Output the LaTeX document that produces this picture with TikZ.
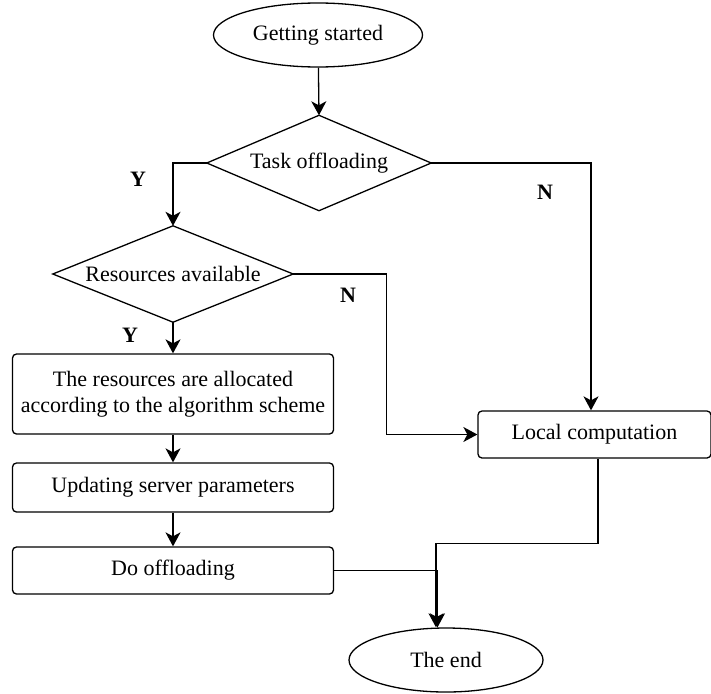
\documentclass[tikz,border=0pt]{standalone}
\usepackage{fontspec}
\setmainfont{Liberation Serif}
\usetikzlibrary{shapes.geometric,arrows.meta}
\begin{document}
\begin{tikzpicture}[x=1pt,y=-1pt,
  every node/.style={font=\fontsize{22}{26}\selectfont, inner sep=0pt},
  box/.style={draw, rounded corners=4pt, line width=1.3pt, minimum width=321pt, minimum height=48pt, align=center},
  term/.style={draw, ellipse, line width=1.3pt},
  dec/.style={rectangle},
  edge/.style={line width=1.3pt, line join=miter},
  flow/.style={line width=1.3pt, -{Stealth[length=14pt,width=15pt,inset=4pt]}},
  yn/.style={font=\fontsize{22}{26}\selectfont\bfseries}]
\useasboundingbox (0,0) rectangle (711,693);
% process nodes
\node[term, minimum width=209pt, minimum height=64pt] (start) at (318,35) {Getting started};
\node[dec, minimum width=224pt, minimum height=95pt] (task) at (319,163) {Task offloading};
\node[dec, minimum width=240pt, minimum height=96pt] (res) at (173,274) {Resources available};
\node[box, minimum height=80pt] (alloc) at (173,394) {The resources are allocated\\according to the algorithm scheme};
\node[box, minimum height=49pt] (upd) at (173,487.5) {Updating server parameters};
\node[box, minimum height=47pt] (off) at (173,570.5) {Do offloading};
\node[box, minimum width=233pt, minimum height=47pt] (local) at (594.5,434.5) {Local computation};
\node[term, minimum width=194pt, minimum height=64pt] (end) at (446,660) {The end};
% decision outlines
\draw[edge] (task.north) -- (task.east) -- (task.south) -- (task.west) -- cycle;
\draw[edge] (res.north) -- (res.east) -- (res.south) -- (res.west) -- cycle;
% branch labels
\node[yn] (y1) at (138,179) {Y};
\node[yn] (n1) at (545,192) {N};
\node[yn] (n2) at (348,295) {N};
\node[yn] (y2) at (130,335) {Y};
% connectors
\draw[flow] (start) -- (task.north);
\draw[flow] (task.west) -| (res.north);
\draw[flow] (task.east) -| ([xshift=-3.5pt]local.north);
\draw[flow] (res.east) -- ++(93,0) |- (local.west);
\draw[flow] (res.south) -- (alloc);
\draw[flow] (alloc) -- (upd);
\draw[flow] (upd) -- (off);
\draw[flow] ([xshift=3.5pt]local.south) -- ++(0,85) -| ([xshift=-10pt]end.north);
\draw[flow] (off.east) -| ([xshift=-8.5pt]end.north);
\end{tikzpicture}
\end{document}
